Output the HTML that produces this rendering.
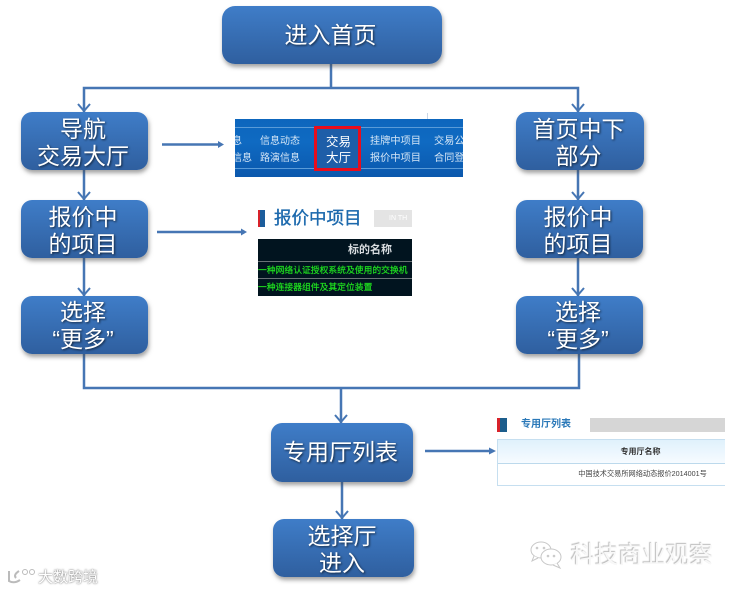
<!DOCTYPE html>
<html><head><meta charset="utf-8">
<style>
html,body{margin:0;padding:0;background:#fff}
#p{position:relative;width:737px;height:592px;overflow:hidden;font-family:"Liberation Sans","Noto Sans CJK SC",sans-serif}
.b{position:absolute;box-sizing:border-box;border-radius:11px;background:linear-gradient(#3f7dc8,#2f5f9f);box-shadow:1px 3px 4px rgba(70,70,70,.5);color:#fff;font-size:23px;line-height:27px;text-align:center;display:flex;align-items:center;justify-content:center;text-shadow:1px 1px 2px rgba(0,0,0,.65);padding-right:3px}
svg{position:absolute;left:0;top:0}
.t{position:absolute;white-space:nowrap}
</style></head><body><div id="p">
<svg width="737" height="592" fill="none" stroke="#4676b4" stroke-width="2.5">
<path d="M331 64V88M84 112V88H578V112M84 170V200M84 258V296M578 170V200M578 258V296M84 354V388H579V354M341 388V423M342 482V519"/>
<path d="M78 104L84 111L90 104M572 104L578 111L584 104M78 192L84 199L90 192M572 192L578 199L584 192M78 288L84 295L90 288M572 288L578 295L584 288M335 415L341 422L347 415M336 511L342 518L348 511" stroke-width="2"/>
<path d="M162 144.500H220M157 232H242M425 451H490" stroke-width="2.500"/>
<path d="M218 141V148L224 144.500ZM241 228.500V235.500L247 232ZM489 447.500V454.500L496 451Z" fill="#4676b4" stroke="none"/>
</svg>
<div class="b" style="left:222px;top:6px;width:220px;height:58px;border-radius:13px">进入首页</div>
<div class="b" style="left:21px;top:112px;width:127px;height:58px;padding-top:3px">导航<br>交易大厅</div>
<div class="b" style="left:21px;top:200px;width:127px;height:58px;padding-top:4px">报价中<br>的项目</div>
<div class="b" style="left:21px;top:296px;width:127px;height:58px;padding-top:1px">选择<br>“更多”</div>
<div class="b" style="left:516px;top:112px;width:128px;height:58px;padding-top:3px">首页中下<br>部分</div>
<div class="b" style="left:516px;top:200px;width:127px;height:58px;padding-top:4px">报价中<br>的项目</div>
<div class="b" style="left:516px;top:296px;width:127px;height:58px;padding-top:1px">选择<br>“更多”</div>
<div class="b" style="left:271px;top:423px;width:142px;height:59px">专用厅列表</div>
<div class="b" style="left:273px;top:519px;width:141px;height:58px;padding-top:3px">选择厅<br>进入</div>

<div style="position:absolute;left:235px;top:119px;width:228px;height:58px;background:linear-gradient(#0d66bd,#0f6ac2 40%,#0b58ad);overflow:hidden">
<div style="position:absolute;left:0;top:8px;width:228px;height:1px;background:#5a9bd8"></div>
<div style="position:absolute;left:0;top:49px;width:228px;height:1px;background:#5a9bd8"></div>
<div style="position:absolute;left:79px;top:7px;width:47px;height:45px;box-sizing:border-box;border:3px solid #e80d1c;background:#1e5ea8"></div>
<div class="t" style="left:-3px;top:15px;font-size:10px;line-height:16px;color:#d5e6f6">息</div>
<div class="t" style="left:-3px;top:32px;font-size:10px;line-height:16px;color:#d5e6f6">信息</div>
<div class="t" style="left:25px;top:15px;font-size:10px;color:#d5e6f6;line-height:16px">信息动态<br><span style="position:relative;top:1px">路演信息</span></div>
<div class="t" style="left:91px;top:15px;font-size:12.500px;color:#fff;line-height:16px">交易<br>大厅</div>
<div class="t" style="left:135px;top:15px;font-size:10.200px;color:#d5e6f6;line-height:16px">挂牌中项目<br><span style="position:relative;top:1px">报价中项目</span></div>
<div class="t" style="left:199px;top:15px;font-size:10.200px;color:#d5e6f6;line-height:16px">交易公告<br><span style="position:relative;top:1px">合同登记</span></div>
</div>
<div style="position:absolute;left:427px;top:113px;width:1px;height:6px;background:#c9d6e6"></div>

<div style="position:absolute;left:258px;top:210px;width:2px;height:17px;background:#d8222a"></div>
<div style="position:absolute;left:260px;top:210px;width:5px;height:17px;background:#1c5d9c"></div>
<div class="t" style="left:274px;top:208px;font-size:17.500px;line-height:21px;color:#1c69ad;-webkit-text-stroke:.35px #1c69ad">报价中项目</div>
<div style="position:absolute;left:374px;top:210px;width:38px;height:17px;background:#e4e4e4;color:#fff;font-size:7px;line-height:17px;text-indent:15px;overflow:hidden;white-space:nowrap">IN TH</div>
<div style="position:absolute;left:258px;top:239px;width:154px;height:57px;background:#01141f;overflow:hidden">
<div class="t" style="left:90px;top:3px;font-size:11px;line-height:16px;font-weight:bold;color:#d8dde0">标的名称</div>
<div style="position:absolute;left:0;top:22px;width:154px;height:1px;background:#6a7276"></div>
<div style="position:absolute;left:0;top:39px;width:154px;height:1px;background:#6a7276"></div>
<div class="t" style="left:0;top:25px;font-size:8.800px;line-height:13px;color:#1fe01f;-webkit-text-stroke:.2px #1fe01f">一种网络认证授权系统及使用的交换机</div>
<div class="t" style="left:0;top:42px;font-size:8.800px;line-height:13px;color:#1fe01f;-webkit-text-stroke:.2px #1fe01f">一种连接器组件及其定位装置</div>
</div>

<div style="position:absolute;left:497px;top:418px;width:3px;height:14px;background:#d8222a"></div>
<div style="position:absolute;left:500px;top:418px;width:7px;height:14px;background:#1c5d8c"></div>
<div class="t" style="left:521px;top:418px;font-size:10px;line-height:14px;font-weight:bold;color:#2a78b8">专用厅列表</div>
<div style="position:absolute;left:590px;top:418px;width:135px;height:14px;background:#d6d6d6"></div>
<div style="position:absolute;left:497px;top:439px;width:228px;height:47px;box-sizing:border-box;border:1px solid #c6dff0;border-right:0;background:#fff">
<div style="height:23px;background:linear-gradient(#dff1fc,#f6fbff);border-bottom:1px solid #bcd9ec;padding-left:58px;text-align:center;font-size:8px;line-height:23px;font-weight:bold;color:#333">专用厅名称</div>
<div style="text-align:center;font-size:7.200px;line-height:20px;color:#444;padding-left:62px">中国技术交易所网络动态报价2014001号</div>
</div>

<div class="t" style="left:38px;top:569px;font-size:15px;line-height:17px;color:#fff;text-shadow:0 0 2px #888,0 0 1px #888">大数跨境</div>
<svg width="40" height="20" style="left:6px;top:567px" fill="none" stroke="#fff" stroke-width="2" filter="none"><path d="M3 4V14Q8 17 14 13M13 4Q7 8 10 11" stroke="#bbb"/><circle cx="19" cy="5" r="2.500" stroke="#bbb" stroke-width="1"/><circle cx="26" cy="5" r="2.500" stroke="#bbb" stroke-width="1"/></svg>

<svg width="40" height="34" style="left:528px;top:540px" fill="#fff" stroke="#c8c8c8" stroke-width="1"><ellipse cx="13" cy="10" rx="10" ry="8"/><path d="M6 16L4 21L10 18"/><ellipse cx="23" cy="17" rx="10" ry="8"/><path d="M29 23L32 28L25 25"/><circle cx="9" cy="8" r=".8"/><circle cx="16" cy="8" r=".8"/><circle cx="20" cy="16" r=".8"/><circle cx="26" cy="16" r=".8"/></svg>
<div class="t" style="left:571px;top:543px;font-size:23.700px;line-height:27px;color:#f8f8f8;text-shadow:-1px -1px 1px #bbb,1px 1px 0 #fff">科技商业观察</div>
</div></body></html>
